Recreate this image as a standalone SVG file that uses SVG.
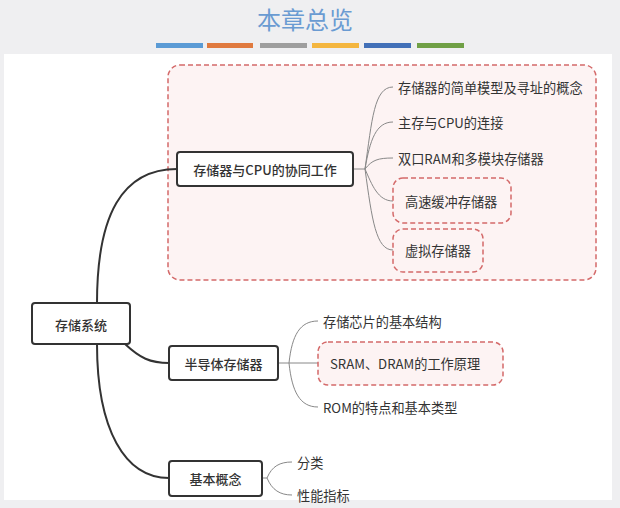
<svg xmlns="http://www.w3.org/2000/svg" width="620" height="508" viewBox="0 0 620 508">
<style>
.t{font-family:"Noto Sans CJK SC","Noto Sans",sans-serif;fill:#333;}
.node rect{fill:#fff;stroke:#333;stroke-width:2;}
.node text{font-size:13px;font-weight:500;text-anchor:middle;dominant-baseline:central;}
.leaf text{font-size:13.2px;dominant-baseline:central;}
.hl{fill:#fdf3f3;stroke:#d46a6a;stroke-width:1.5;stroke-dasharray:5 3;}
.main{fill:none;stroke:#333;stroke-width:2;}
.sub{fill:none;stroke:#888;stroke-width:1;}
</style>
<rect x="0" y="0" width="620" height="508" fill="#efeff1"/>
<rect x="4" y="54" width="608" height="446" fill="#ffffff"/>
<text x="305" y="29" class="t" style="font-size:24px;fill:#6a9bd2;text-anchor:middle">本章总览</text>
<g id="bars">
<rect x="156" y="43" width="47" height="5" fill="#5b9bd5"/>
<rect x="207" y="43" width="46" height="5" fill="#e07a3f"/>
<rect x="260" y="43" width="47" height="5" fill="#9e9e9e"/>
<rect x="312" y="43" width="47" height="5" fill="#f4b63f"/>
<rect x="364" y="43" width="47" height="5" fill="#4270b8"/>
<rect x="417" y="43" width="47" height="5" fill="#70a046"/>
</g>
<rect id="group-box" x="168" y="65" width="428" height="215" rx="12" class="hl"/>
<g id="connectors">
<path class="main" d="M97,303 C97,215 122,169 177,169"/>
<path class="main" d="M125,344 C140,358 150,363 169,363"/>
<path class="main" d="M97,344 C97,430 125,478 169,478"/>
<path class="sub" d="M353,169 H365 M365,169 C372,120 374,87 393,87 M365,169 C370,140 376,122 393,122 M365,169 C372,160 378,158 393,158 M365,169 C372,185 378,201 393,201 M365,169 C372,220 376,250 393,250"/>
<path class="sub" d="M278,363 H318 M289,363 C292,335 300,321 318,321 M289,363 C292,392 300,407 318,407"/>
<path class="sub" d="M262,478 H267 M267,478 C272,466 280,462 292,462 M267,478 C272,490 280,495 292,495"/>
</g>
<g id="n-root" class="node t"><rect x="32" y="303" width="98" height="41" rx="3"/><text x="81" y="324">存储系统</text></g>
<g id="n-cpu" class="node t"><rect x="177" y="152" width="176" height="34" rx="3"/><text x="265" y="169">存储器与CPU的协同工作</text></g>
<g id="n-semi" class="node t"><rect x="169" y="346" width="109" height="34" rx="3"/><text x="223.5" y="363">半导体存储器</text></g>
<g id="n-basic" class="node t"><rect x="169" y="461" width="93" height="35" rx="3"/><text x="215.5" y="478">基本概念</text></g>
<g id="l1" class="leaf t"><text x="398" y="87">存储器的简单模型及寻址的概念</text></g>
<g id="l2" class="leaf t"><text x="398" y="122">主存与CPU的连接</text></g>
<g id="l3" class="leaf t"><text x="398" y="158">双口RAM和多模块存储器</text></g>
<g id="l4" class="leaf t"><rect x="393" y="178" width="118" height="45" rx="10" class="hl"/><text x="405" y="201">高速缓冲存储器</text></g>
<g id="l5" class="leaf t"><rect x="393" y="229" width="90" height="43" rx="10" class="hl"/><text x="405" y="250">虚拟存储器</text></g>
<g id="l6" class="leaf t"><text x="323" y="321">存储芯片的基本结构</text></g>
<g id="l7" class="leaf t"><rect x="318" y="342" width="185" height="43" rx="10" class="hl"/><text x="330" y="363">SRAM、DRAM的工作原理</text></g>
<g id="l8" class="leaf t"><text x="323" y="407">ROM的特点和基本类型</text></g>
<g id="l9" class="leaf t"><text x="297" y="462">分类</text></g>
<g id="l10" class="leaf t"><text x="297" y="495">性能指标</text></g>
</svg>
